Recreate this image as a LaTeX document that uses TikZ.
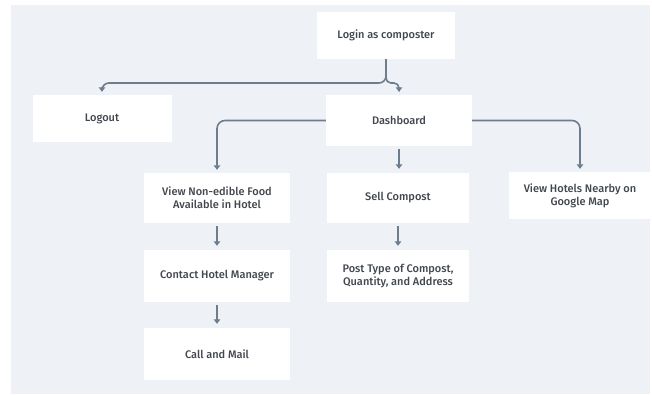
\documentclass[tikz,border=0pt]{standalone}
\usepackage{fontspec}
\setmainfont{Fira Sans Medium}
\usetikzlibrary{arrows.meta}
\definecolor{bgc}{HTML}{EEF2F6}
\definecolor{linec}{HTML}{6E7D8D}
\definecolor{txtc}{HTML}{42474D}
\tikzset{
  box/.style={draw=none, fill=white, align=center, inner sep=0pt, text=txtc,
    font=\fontsize{11}{13}\selectfont},
  conn/.style={draw=linec, line width=1.6pt, -{Triangle[width=6.5pt,length=4.5pt]}},
  straight/.style={conn, shorten <=3pt, shorten >=4pt},
}
\begin{document}
\begin{tikzpicture}[x=1pt,y=-1pt]
\useasboundingbox (0,0) rectangle (652,394);
\fill[white] (0,0) rectangle (652,394);
\fill[bgc] (11,5) rectangle (650,394);
\node[box, minimum width=138pt, minimum height=47pt] (login) at (386,35.5) {Login as composter};
\node[box, minimum width=139pt, minimum height=47pt] (logout) at (102,118.5) {Logout};
\node[box, minimum width=146pt, minimum height=51pt] (dash) at (399,120.5) {Dashboard};
\node[box, minimum width=146pt, minimum height=50pt] (food) at (217,198) {View Non-edible Food\\Available in Hotel};
\node[box, minimum width=146pt, minimum height=52pt] (contact) at (217,276) {Contact Hotel Manager};
\node[box, minimum width=146pt, minimum height=52pt] (call) at (217,354) {Call and Mail};
\node[box, minimum width=142pt, minimum height=50pt] (sell) at (398,198) {Sell Compost};
\node[box, minimum width=142pt, minimum height=52pt] (post) at (398,276) {Post Type of Compost,\\Quantity, and Address};
\node[box, minimum width=142pt, minimum height=47pt] (hotels) at (580,195.5) {View Hotels Nearby on\\Google Map};
\coordinate (split) at (386,83);
\draw[conn, rounded corners=7pt, shorten >=3pt] (login.south) |- (logout.north |- split) -- (logout.north);
\draw[conn, rounded corners=5pt, shorten >=3pt] (login.south) |- (dash.north |- split) -- (dash.north);
\draw[conn, rounded corners=8pt, shorten >=3pt] (dash.west) -| (food.north);
\draw[conn, rounded corners=8pt, shorten >=3pt] (dash.east) -| (hotels.north);
\draw[straight] (dash.south) -- (dash.south |- sell.north);
\draw[straight] (sell.south) -- (post.north);
\draw[straight] (food.south) -- (contact.north);
\draw[straight] (contact.south) -- (call.north);
\end{tikzpicture}
\end{document}
